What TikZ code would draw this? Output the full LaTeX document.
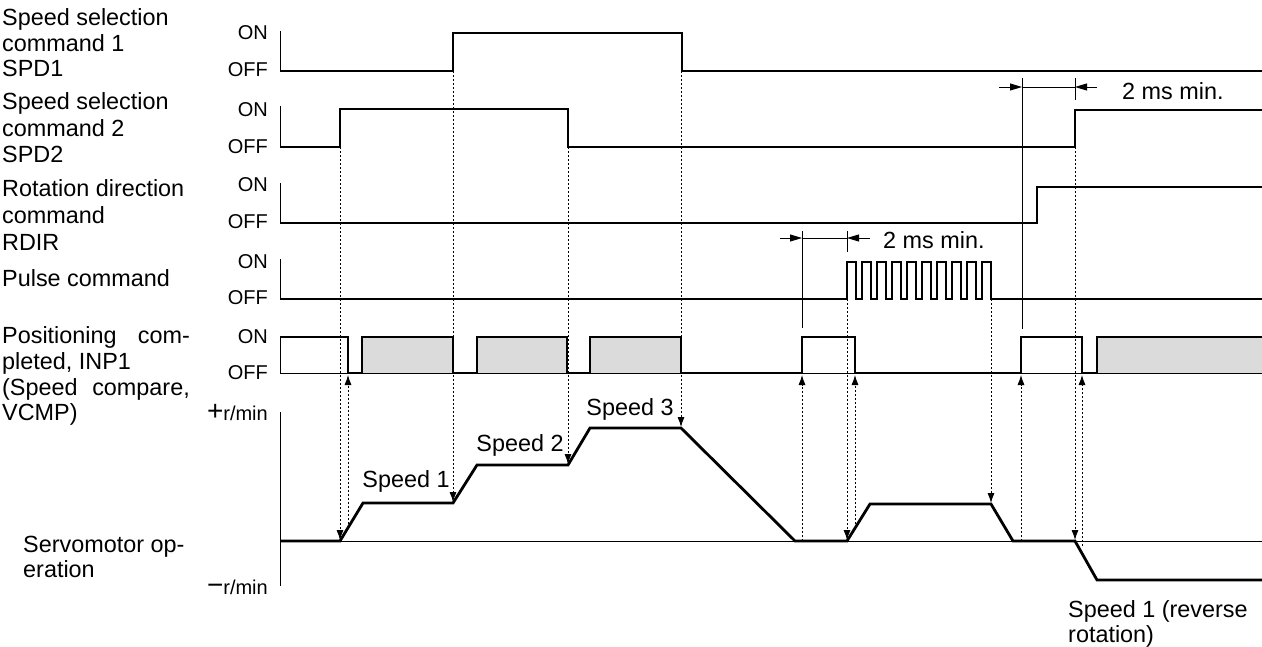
\documentclass[tikz,border=0pt]{standalone}
\usepackage{fontspec}
\setmainfont{Liberation Sans}
\usetikzlibrary{arrows.meta}
\begin{document}
\begin{tikzpicture}[x=1pt,y=-1pt,
  sig/.style={line width=2.8pt,line join=miter},
  thinline/.style={line width=1pt},
  dotline/.style={line width=0.8pt,dash pattern=on 2.2pt off 1.8pt},
  arr/.style={-{Latex[length=10pt,width=7pt]}},
  dimarr/.style={line width=0.9pt,-{Triangle[length=12pt,width=7pt]}},
  lbl/.style={font=\fontsize{23.4}{25.5}\selectfont,inner sep=0pt},
  onoff/.style={font=\fontsize{20}{20}\selectfont,anchor=east,inner sep=0pt},
  shade/.style={fill=black!14}]
\useasboundingbox (0,0) rectangle (1262,647);
% ---------- left labels ----------
\node[lbl,anchor=base west] (l1a) at (2,26) {Speed selection};
\node[lbl,anchor=base west] (l1b) at (2,52) {command 1};
\node[lbl,anchor=base west] (l1c) at (2,77) {SPD1};
\node[lbl,anchor=base west] (l2a) at (2,110) {Speed selection};
\node[lbl,anchor=base west] (l2b) at (2,137) {command 2};
\node[lbl,anchor=base west] (l2c) at (2,163) {SPD2};
\node[lbl,anchor=base west] (l3a) at (2,197) {Rotation direction};
\node[lbl,anchor=base west] (l3b) at (2,224) {command};
\node[lbl,anchor=base west] (l3c) at (2,251) {RDIR};
\node[lbl,anchor=base west] (l4a) at (2,287) {Pulse command};
\node[lbl,anchor=base west] (l5a) at (2,343) {Positioning};
\node[lbl,anchor=base east] (l5b) at (190,343) {com-};
\node[lbl,anchor=base west] (l5c) at (2,370) {pleted, INP1};
\node[lbl,anchor=base west] (l5d) at (2,395) {(Speed};
\node[lbl,anchor=base east] (l5e) at (190,395) {compare,};
\node[lbl,anchor=base west] (l5f) at (2,420) {VCMP)};
\node[lbl,anchor=base west] (l6a) at (23,552) {Servomotor op-};
\node[lbl,anchor=base west] (l6b) at (23,577) {eration};
% ---------- ON / OFF ----------
\node[onoff] (on1) at (268,33) {ON};
\node[onoff] (of1) at (268,70) {OFF};
\node[onoff] (on2) at (268,110) {ON};
\node[onoff] (of2) at (268,147) {OFF};
\node[onoff] (on3) at (268,185) {ON};
\node[onoff] (of3) at (268,222) {OFF};
\node[onoff] (on4) at (268,262) {ON};
\node[onoff] (of4) at (268,298) {OFF};
\node[onoff] (on5) at (268,337) {ON};
\node[onoff] (of5) at (268,373) {OFF};
\node[onoff] (pr) at (268,413) {{\fontsize{28}{28}\selectfont +}r/min};
\node[onoff] (mr) at (268,587) {{\fontsize{28}{28}\selectfont −}r/min};
% ---------- axis ticks ----------
\draw[thinline] (280,31) -- (280,71);
\draw[thinline] (280,106) -- (280,147);
\draw[thinline] (280,183) -- (280,223);
\draw[thinline] (280,259) -- (280,299);
\draw[thinline] (280,337) -- (280,373);
\draw[thinline] (280,412) -- (280,586);
% ---------- SPD1 ----------
\draw[sig] (280,71) -- (453,71) -- (453,33) -- (682,33) -- (682,71) -- (1262,71);
% ---------- SPD2 ----------
\draw[sig] (280,147) -- (340,147) -- (340,109) -- (568,109) -- (568,147) -- (1075,147) -- (1075,110) -- (1262,110);
% ---------- RDIR ----------
\draw[sig] (280,223) -- (1037,223) -- (1037,187) -- (1262,187);
% ---------- Pulse ----------
\draw[sig] (280,299) -- (847,299)
  \foreach \k in {0,...,9} { -- ++(0,-37) -- ++(9,0) -- ++(0,37) -- ++(6,0) }
  -- (1262,299);
% ---------- INP1 ----------
\fill[shade] (362,337) rectangle (453,373);
\fill[shade] (477,337) rectangle (567,373);
\fill[shade] (590,337) rectangle (681,373);
\fill[shade] (1097,337) rectangle (1262,373);
\draw[thinline] (280,373) -- (1262,373);
\draw[sig] (280,337) -- (348,337) -- (348,373) -- (362,373) -- (362,337) -- (453,337) -- (453,373)
  -- (477,373) -- (477,337) -- (567,337) -- (567,373) -- (590,373) -- (590,337) -- (681,337) -- (681,373)
  -- (802,373) -- (802,337) -- (855,337) -- (855,373) -- (1021,373) -- (1021,337) -- (1082,337) -- (1082,373)
  -- (1097,373) -- (1097,337) -- (1262,337);
% ---------- speed ----------
\draw[thinline] (280,541) -- (1262,541);
\draw[sig] (280,541) -- (340,541) -- (363,503) -- (453,503) -- (477,465) -- (568,465)
  -- (590,428) -- (681,428) -- (795,541) -- (847,541) -- (870,504) -- (991,504) -- (1013,541)
  -- (1075,541) -- (1097,580) -- (1262,580);
\node[lbl,anchor=base] (sp1) at (406,487) {Speed 1};
\node[lbl,anchor=base] (sp2) at (520,451) {Speed 2};
\node[lbl,anchor=base] (sp3) at (630,415) {Speed 3};
\node[lbl,anchor=base west] (rv1) at (1068,617) {Speed 1 (reverse};
\node[lbl,anchor=base west] (rv2) at (1068,642) {rotation)};
% ---------- dotted cause/effect arrows ----------
\foreach \n/\x/\a/\b in {1/340/147/540, 2/348/528/375, 3/453/71/502, 4/568/147/464,
    5/681/71/427, 6/802/541/375, 7/847/299/540, 8/855/528/375, 9/991/299/503,
    10/1021/541/375, 11/1075/147/540, 12/1082/546/375} {
  \coordinate (s\n) at (\x,\a);
  \coordinate (e\n) at (\x,\b);
  \draw[dotline,arr] (s\n) -- (e\n);
}
% ---------- 2 ms min. (upper) ----------
\coordinate (ua) at (1022,87);
\coordinate (ub) at (1075,87);
\coordinate (uao) at (999,87);
\coordinate (ubo) at (1097,87);
\draw[thinline] (1022,78) -- (1022,329);
\draw[thinline] (1075,78) -- (1075,100);
\draw[line width=0.9pt] (ua) -- (ub);
\draw[dimarr] (uao) -- (ua);
\draw[dimarr] (ubo) -- (ub);
\node[lbl,anchor=base west] (ums) at (1122,100) {2 ms min.};
% ---------- 2 ms min. (lower) ----------
\coordinate (la) at (802,238);
\coordinate (lb) at (847,238);
\coordinate (lao) at (780,238);
\coordinate (lbo) at (870,238);
\draw[thinline] (802,231) -- (802,328);
\draw[thinline] (847,231) -- (847,252);
\draw[line width=0.9pt] (la) -- (lb);
\draw[dimarr] (lao) -- (la);
\draw[dimarr] (lbo) -- (lb);
\node[lbl,anchor=base west] (lms) at (883,249) {2 ms min.};
\end{tikzpicture}
\end{document}
